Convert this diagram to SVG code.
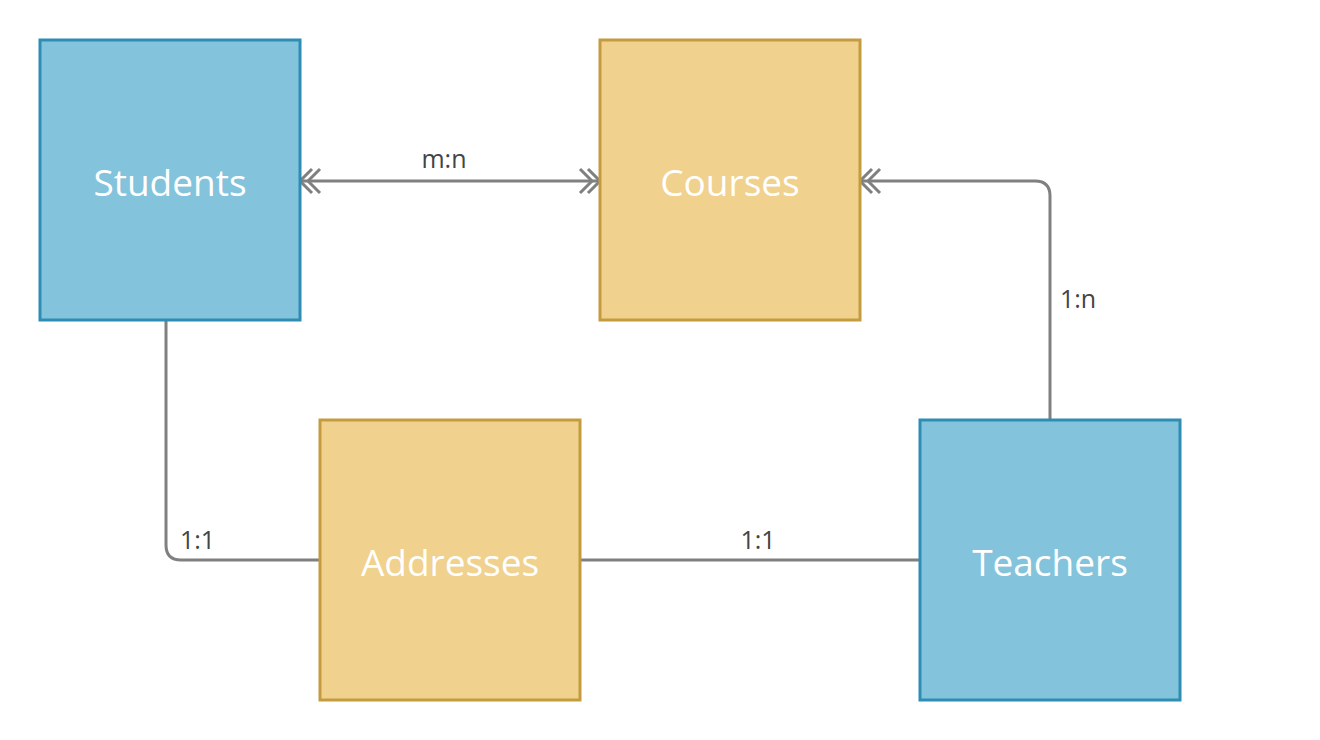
<svg xmlns="http://www.w3.org/2000/svg" width="1320" height="740" viewBox="0 0 1320 740">
<style>
.blue{fill:#84C3DC;stroke:#2E8DB5;stroke-width:3}
.yellow{fill:#F0D18D;stroke:#C59B40;stroke-width:3}
.name{font-family:"Open Sans","Noto Sans",sans-serif;font-size:37px;fill:#ffffff;text-anchor:middle}
.lbl{font-family:"Open Sans","Noto Sans",sans-serif;font-size:25px;fill:#444444}
.conn{fill:none;stroke:#808080;stroke-width:3}
</style>
<defs>
<marker id="dbl" viewBox="0 0 26 28" refX="22" refY="14" markerWidth="26" markerHeight="28" markerUnits="userSpaceOnUse" orient="auto-start-reverse">
<path d="M10 2 L22 14 L10 26 M2 2 L14 14 L2 26" fill="none" stroke="#808080" stroke-width="3"/>
</marker>
</defs>
<rect width="1320" height="740" fill="#ffffff"/>
<g id="connectors">
<path class="conn" d="M300 181 L600 181" marker-start="url(#dbl)" marker-end="url(#dbl)"/>
<path class="conn" d="M1050 420 L1050 196 Q1050 181 1035 181 L860 181" marker-end="url(#dbl)"/>
<path class="conn" d="M166 320 L166 545 Q166 560 181 560 L320 560"/>
<path class="conn" d="M580 560 L920 560"/>
<text class="lbl" x="444" y="168" text-anchor="middle">m:n</text>
<text class="lbl" x="1060" y="308">1:n</text>
<text class="lbl" x="180" y="549">1:1</text>
<text class="lbl" x="758" y="549" text-anchor="middle">1:1</text>
</g>
<g id="students">
<rect class="blue" x="40" y="40" width="260" height="280"/>
<text class="name" x="170" y="196">Students</text>
</g>
<g id="courses">
<rect class="yellow" x="600" y="40" width="260" height="280"/>
<text class="name" x="730" y="196">Courses</text>
</g>
<g id="addresses">
<rect class="yellow" x="320" y="420" width="260" height="280"/>
<text class="name" x="450" y="576">Addresses</text>
</g>
<g id="teachers">
<rect class="blue" x="920" y="420" width="260" height="280"/>
<text class="name" x="1050" y="576">Teachers</text>
</g>
</svg>
